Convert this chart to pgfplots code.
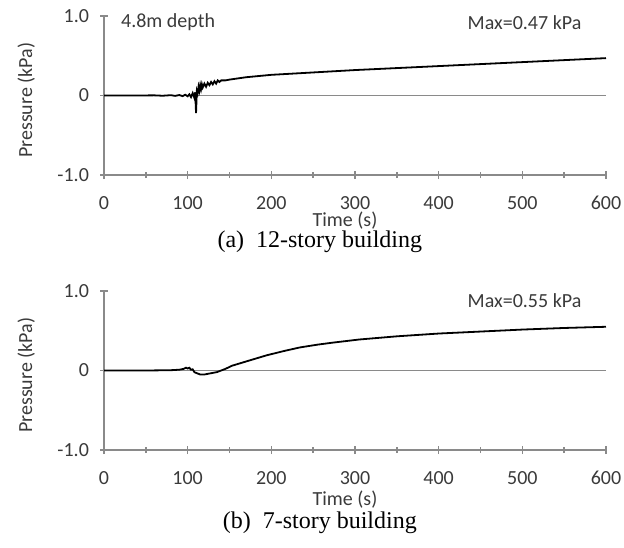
\documentclass[border=0pt]{standalone}
\usepackage{fontspec}
\setmainfont{Carlito}
\newfontfamily\capfont{Liberation Serif}
\usepackage{pgfplots}
\pgfplotsset{compat=1.18}

\definecolor{axgray}{HTML}{8A8A8A}
\definecolor{txt}{HTML}{3A3A3A}

\pgfplotsset{pres/.style={
  scale only axis, width=251pt, height=79.5pt,
  xmin=0, xmax=600, ymin=-1, ymax=1,
  axis lines=left,
  axis line style={axgray, line width=0.9pt, -},
  xtick={0,100,...,600}, minor x tick num=1,
  ytick={-1,0,1}, yticklabels={-1.0,0,1.0},
  tick align=center, major tick length=4pt, minor tick length=3pt,
  tick style={axgray, line width=0.7pt},
  /pgf/number format/assume math mode=true,
  tick label style={font=\fontsize{10}{12}\selectfont, text=txt},
  xticklabel style={anchor=north, yshift=-5pt},
  yticklabel style={anchor=east, xshift=-2pt},
  clip=false,
}}

\begin{document}
\begin{tikzpicture}
\path[use as bounding box] (0,0) rectangle (312pt,273.5pt);

% (a) 12-story building
\begin{axis}[pres, at={(52pt,186pt)}, anchor=south west]
\addplot[axgray, line width=0.6pt] coordinates {(0,0) (600,0)};
\addplot[black, line width=0.9pt] coordinates {
(0,0) (20,0) (40,0) (60,0.002) (70,-0.003) (80,0.004) (85,-0.005) (90,0.006)
(94,-0.008) (97,0.01) (100,-0.01) (102,0.015) (104,-0.02) (106,0.03)
(108,-0.03) (109,0.04) (110,-0.22) (111,0.06) (112,0.03) (113,0.11)
(114,0.06) (115,0.13) (116,0.08) (117,0.14) (118,0.1) (120,0.15) (122,0.11)
(124,0.16) (126,0.13) (128,0.17) (130,0.14) (132,0.18) (134,0.15) (136,0.19)
(138,0.17) (140,0.19) (145,0.19) (150,0.2) (160,0.215) (170,0.23) (180,0.24)
(200,0.26) (250,0.29) (300,0.32) (350,0.345) (400,0.37) (450,0.395)
(500,0.42) (550,0.445) (600,0.47)
};
\node[anchor=west, font=\fontsize{10}{12}\selectfont, text=txt] at (axis description cs:0.02,0.96) {4.8m depth};
\node[anchor=east, font=\fontsize{10}{12}\selectfont, text=txt] at (axis description cs:0.965,0.96) {Max=0.47 kPa};
\node[rotate=90, font=\fontsize{10}{12}\selectfont, text=txt] at (axis description cs:-0.155,0.47) {Pressure (kPa)};
\node[font=\fontsize{10}{12}\selectfont, text=txt] at ([yshift=-23pt]axis description cs:0.48,0) {Time (s)};
\node[font=\capfont\fontsize{12}{14}\selectfont] at ([yshift=-33.5pt]axis description cs:0.43,0) {(a)\ \ 12-story building};
\end{axis}

% (b) 7-story building
\begin{axis}[pres, at={(52pt,48.5pt)}, anchor=south west]
\addplot[axgray, line width=0.6pt] coordinates {(0,0) (600,0)};
\addplot[black, line width=0.9pt] coordinates {
(0,0) (50,0) (80,0.004) (90,0.01) (95,0.02) (98,0.035) (100,0.025) (102,0.035)
(104,0.01) (106,0.015) (108,-0.02) (110,-0.03) (115,-0.05) (120,-0.05)
(125,-0.04) (135,-0.02) (145,0.02) (153,0.06) (175,0.13) (194,0.19)
(215,0.245) (234,0.29) (255,0.325) (273,0.35) (305,0.39) (350,0.43)
(400,0.465) (450,0.49) (500,0.515) (550,0.535) (600,0.55)
};
\node[anchor=east, font=\fontsize{10}{12}\selectfont, text=txt] at (axis description cs:0.965,0.94) {Max=0.55 kPa};
\node[rotate=90, font=\fontsize{10}{12}\selectfont, text=txt] at (axis description cs:-0.155,0.47) {Pressure (kPa)};
\node[font=\fontsize{10}{12}\selectfont, text=txt] at ([yshift=-25pt]axis description cs:0.48,0) {Time (s)};
\node[font=\capfont\fontsize{12}{14}\selectfont] at ([yshift=-36.5pt]axis description cs:0.43,0) {(b)\ \ 7-story building};
\end{axis}
\end{tikzpicture}
\end{document}
